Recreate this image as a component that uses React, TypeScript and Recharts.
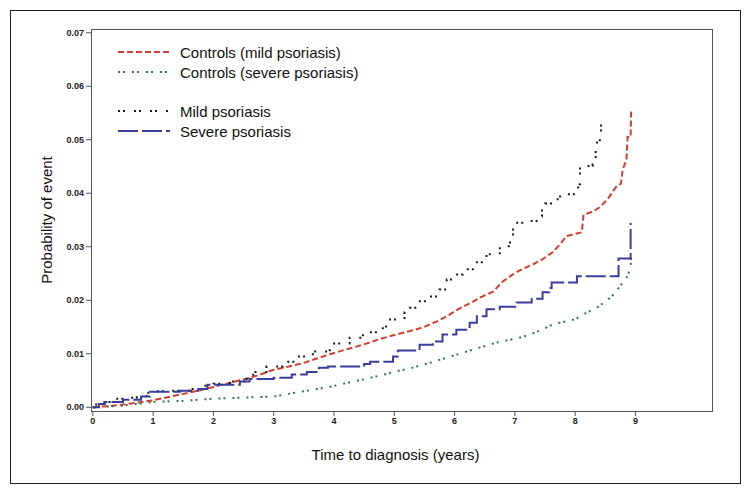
import React from "react";
import { LineChart, Line, XAxis, YAxis, Legend } from "recharts";

type Pt = { x: number; y: number };
const toPts = (a: number[][]): Pt[] => a.map(([x, y]) => ({ x, y }));

// Cumulative probabilities: [time (years), probability]
const controlsMild: number[][] = [
  [0, 0], [0.25, 0.0002], [0.5, 0.0005], [0.75, 0.0009], [1.0, 0.0013], [1.25, 0.0019], [1.5, 0.0025],
  [1.75, 0.0031], [2.0, 0.0038], [2.25, 0.0045], [2.5, 0.0052], [2.75, 0.006], [3.0, 0.007],
  [3.25, 0.0076], [3.5, 0.0083], [3.93, 0.0099], [4.2, 0.0108], [4.48, 0.0117], [4.75, 0.0127],
  [5.03, 0.0136], [5.25, 0.0142], [5.47, 0.0149], [5.7, 0.016], [5.87, 0.017], [6.0, 0.0179],
  [6.14, 0.0188], [6.3, 0.0197], [6.42, 0.0205], [6.64, 0.0216], [6.8, 0.0235], [6.95, 0.0247],
  [7.08, 0.0256], [7.3, 0.0267], [7.45, 0.0276], [7.63, 0.029], [7.75, 0.0305], [7.86, 0.032],
  [8.11, 0.0327], [8.14, 0.036], [8.3, 0.0366], [8.41, 0.0374], [8.54, 0.0389], [8.68, 0.0412],
  [8.76, 0.0418], [8.79, 0.0445], [8.85, 0.0462], [8.87, 0.0505], [8.92, 0.0505], [8.93, 0.0557],
];
const controlsSevere: number[][] = [
  [0, 0], [0.5, 0.0003], [0.8, 0.0007], [1.0, 0.001], [1.5, 0.0012], [2.0, 0.0016], [2.5, 0.0018],
  [3.0, 0.002], [3.25, 0.0025], [3.5, 0.003], [3.93, 0.0038], [4.2, 0.0045], [4.48, 0.0052],
  [4.75, 0.0059], [5.03, 0.0067], [5.3, 0.0074], [5.59, 0.0083], [5.85, 0.0092], [6.14, 0.0102],
  [6.4, 0.0111], [6.7, 0.0121], [7.08, 0.013], [7.25, 0.0136], [7.45, 0.0145], [7.63, 0.0155],
  [7.99, 0.0164], [8.19, 0.0177], [8.36, 0.0186], [8.54, 0.0201], [8.65, 0.0212], [8.74, 0.0226],
  [8.87, 0.0245], [8.92, 0.0262], [8.93, 0.0285],
];
const mildPsoriasis: number[][] = [
  [0, 0], [0.03, 0.0005], [0.17, 0.001], [0.33, 0.0016], [0.5, 0.0018], [0.73, 0.0021], [0.9, 0.0027],
  [0.95, 0.003], [1.28, 0.0031], [1.61, 0.0034], [1.85, 0.004], [2.0, 0.0044], [2.27, 0.0048],
  [2.55, 0.0057], [2.66, 0.0066], [2.88, 0.0076], [3.15, 0.0085], [3.38, 0.0095], [3.65, 0.0104],
  [3.93, 0.0119], [4.26, 0.013], [4.48, 0.014], [4.81, 0.0151], [4.93, 0.0164], [5.17, 0.0177],
  [5.26, 0.0186], [5.37, 0.0198], [5.53, 0.0207], [5.75, 0.022], [5.87, 0.0239], [5.97, 0.0248],
  [6.14, 0.0258], [6.37, 0.0271], [6.53, 0.0286], [6.75, 0.0301], [6.92, 0.032], [6.97, 0.0345],
  [7.16, 0.0348], [7.36, 0.0357], [7.45, 0.037], [7.5, 0.0381], [7.69, 0.0389], [7.75, 0.0398],
  [8.05, 0.0417], [8.08, 0.0451], [8.29, 0.0454], [8.34, 0.0495], [8.41, 0.051], [8.43, 0.0533],
  [8.45, 0.0533],
];
const severePsoriasis: number[][] = [
  [0, 0], [0.1, 0.0006], [0.2, 0.001], [0.5, 0.0014], [0.8, 0.002], [0.95, 0.0029], [1.45, 0.0031],
  [1.75, 0.0034], [1.9, 0.0042], [2.44, 0.0048], [2.6, 0.0053], [3.0, 0.0055], [3.3, 0.0061],
  [3.55, 0.0066], [3.75, 0.0074], [3.9, 0.0076], [4.5, 0.0081], [4.6, 0.0085], [4.98, 0.0095],
  [5.06, 0.0106], [5.42, 0.0117], [5.64, 0.0123], [5.8, 0.0136], [6.03, 0.0145], [6.25, 0.0158],
  [6.37, 0.017], [6.53, 0.0183], [6.75, 0.0188], [7.03, 0.0196], [7.28, 0.0203], [7.46, 0.0215],
  [7.57, 0.0223], [7.61, 0.0233], [8.03, 0.0245], [8.72, 0.0278], [8.92, 0.0345],
];

const xTicks = [0, 1, 2, 3, 4, 5, 6, 7, 8, 9];
const yTicks = [0, 0.01, 0.02, 0.03, 0.04, 0.05, 0.06, 0.07];

const seriesNames = [
  "Controls (mild psoriasis)",
  "Controls (severe psoriasis)",
  "Mild psoriasis",
  "Severe psoriasis",
];

const styles = [
  { color: "#d63c30", dash: "6 3", width: 2, curve: "linear" },
  { color: "#2f7a4a", dash: "2 3 2 7", width: 2, curve: "linear" },
  { color: "#1a1a1a", dash: "2 3 2 9", width: 2, curve: "stepAfter" },
  { color: "#3a3d9a", dash: "20 4", width: 2, curve: "stepAfter" },
];

const seriesData = [controlsMild, controlsSevere, mildPsoriasis, severePsoriasis].map(toPts);

const FONT = "'Liberation Sans', Arial, sans-serif";

const LegendBox = () => (
  <div style={{ fontFamily: FONT, fontSize: 15, color: "#111" }}>
    {seriesNames.map((name, i) => (
      <div
        key={name}
        style={{ display: "flex", alignItems: "center", height: 20, marginTop: i === 2 ? 19 : 0 }}
      >
        <svg width={62} height={20}>
          <line
            x1={0}
            y1={10}
            x2={52}
            y2={10}
            stroke={styles[i].color}
            strokeWidth={styles[i].width}
            strokeDasharray={styles[i].dash}
          />
        </svg>
        <span style={{ whiteSpace: "nowrap" }}>{name}</span>
      </div>
    ))}
  </div>
);

export default function App() {
  return (
    <div style={{ position: "absolute", left: 0, top: 0, width: 748, height: 496, background: "#fff", fontFamily: FONT }}>
      <div
        style={{
          position: "absolute",
          left: 10,
          top: 10,
          width: 729,
          height: 472,
          border: "1px solid #222",
        }}
      />
      <div
        style={{
          position: "absolute",
          left: 91,
          top: 29,
          width: 620,
          height: 381,
          border: "1px solid #555",
        }}
      />
      <div style={{ position: "absolute", left: 0, top: 0 }}>
        <LineChart width={748} height={496} margin={{ top: 29, right: 36, bottom: 30, left: 8 }}>
          <XAxis
            dataKey="x"
            type="number"
            domain={[-0.03, 10.27]}
            ticks={xTicks}
            allowDataOverflow
            axisLine={false}
            tickLine={{ stroke: "#555" }}
            tickSize={5}
            height={55}
            tick={{ fontSize: 9, fontWeight: 700, fill: "#222", fontFamily: FONT }}
            label={{
              value: "Time to diagnosis (years)",
              position: "insideBottom",
              offset: 6,
              dx: -6,
              style: { fontSize: 15, fill: "#111", fontFamily: FONT },
            }}
          />
          <YAxis
            type="number"
            domain={[-0.0007, 0.0707]}
            ticks={yTicks}
            allowDataOverflow
            axisLine={false}
            tickLine={{ stroke: "#555" }}
            tickSize={5}
            width={83}
            tickFormatter={(v: number) => v.toFixed(2)}
            tick={{ fontSize: 9, fontWeight: 700, fill: "#222", fontFamily: FONT }}
            label={{
              value: "Probability of event",
              angle: -90,
              position: "center",
              dx: -3,
              style: { fontSize: 15, fill: "#111", fontFamily: FONT, textAnchor: "middle" },
            }}
          />
          <Legend
            layout="vertical"
            align="center"
            verticalAlign="middle"
            content={() => <LegendBox />}
            wrapperStyle={{ position: "absolute", left: 118, top: 42, width: 320, height: 110 }}
          />
          {seriesData.map((d, i) => (
            <Line
              key={seriesNames[i]}
              data={d}
              dataKey="y"
              name={seriesNames[i]}
              type={styles[i].curve as any}
              stroke={styles[i].color}
              strokeWidth={styles[i].width}
              strokeDasharray={styles[i].dash}
              dot={false}
              activeDot={false}
              isAnimationActive={false}
            />
          ))}
        </LineChart>
      </div>
    </div>
  );
}
